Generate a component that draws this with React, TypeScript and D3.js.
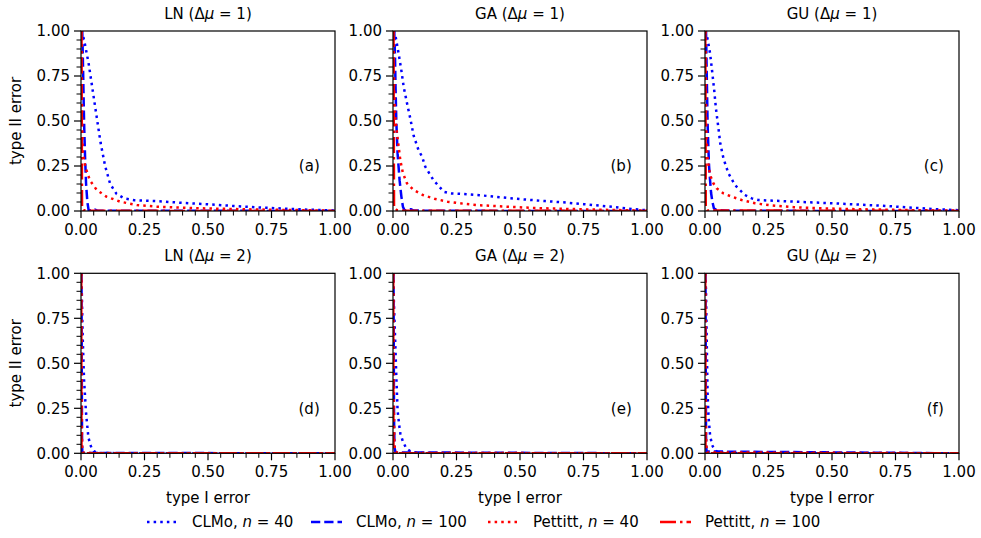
import React from "react";
import * as d3 from "d3";

type Pt = [number, number];

// ---------- data (type I error, type II error) ----------
const panelTitles = ["LN", "GA", "GU", "LN", "GA", "GU"];
const panelShifts = [1, 1, 1, 2, 2, 2];
const panelLabels = ["(a)", "(b)", "(c)", "(d)", "(e)", "(f)"];
const majorTicks = [0, 0.25, 0.5, 0.75, 1];
const tickLabels = ["0.00", "0.25", "0.50", "0.75", "1.00"];
const minorTicks = [0.05, 0.1, 0.15, 0.2, 0.3, 0.35, 0.4, 0.45, 0.55, 0.6, 0.65, 0.7, 0.8, 0.85, 0.9, 0.95];
const seriesNames = ["CLMo", "CLMo", "Pettitt", "Pettitt"];
const seriesN = [40, 100, 40, 100];

// panel (a) LN, Δμ = 1
const aClmo40: Pt[] = [[0,1],[0.007,0.98],[0.015,0.93],[0.03,0.82],[0.045,0.68],[0.062,0.52],[0.077,0.38],[0.095,0.25],[0.115,0.15],[0.14,0.095],[0.17,0.07],[0.21,0.06],[0.3,0.055],[0.4,0.045],[0.5,0.037],[0.6,0.028],[0.7,0.02],[0.8,0.013],[0.9,0.007],[1,0.003]];
const aClmo100: Pt[] = [[0.005,1],[0.008,0.8],[0.012,0.5],[0.016,0.3],[0.02,0.15],[0.025,0.05],[0.03,0.005],[0.045,0.003],[0.055,0.008],[0.065,0.002],[1,0]];
const aPett40: Pt[] = [[0.002,1],[0.003,0.7],[0.005,0.45],[0.007,0.32],[0.017,0.245],[0.035,0.17],[0.062,0.117],[0.1,0.08],[0.154,0.052],[0.22,0.033],[0.3,0.024],[0.4,0.018],[0.5,0.014],[0.6,0.011],[0.7,0.008],[0.8,0.006],[0.9,0.004],[1,0.001]];
const aPett100: Pt[] = [[0.002,1],[0.003,0.5],[0.004,0.02],[0.01,0.005],[0.02,0.002],[0.05,0.001],[1,0]];

// panel (b) GA, Δμ = 1
const bClmo40: Pt[] = [[0,1],[0.009,0.98],[0.022,0.876],[0.033,0.78],[0.042,0.69],[0.055,0.6],[0.068,0.515],[0.081,0.42],[0.1,0.34],[0.115,0.3],[0.127,0.246],[0.16,0.17],[0.2,0.107],[0.226,0.098],[0.28,0.094],[0.34,0.088],[0.41,0.078],[0.5,0.066],[0.6,0.055],[0.67,0.048],[0.75,0.038],[0.87,0.022],[0.95,0.01],[1,0.004]];
const bClmo100: Pt[] = [[0.005,1],[0.008,0.85],[0.01,0.69],[0.013,0.5],[0.018,0.32],[0.026,0.17],[0.033,0.08],[0.039,0.024],[0.045,0.005],[0.06,0.004],[0.07,0.01],[0.08,0.003],[0.15,0.001],[1,0]];
const bPett40: Pt[] = [[0.002,1],[0.003,0.8],[0.006,0.6],[0.01,0.5],[0.016,0.43],[0.022,0.36],[0.029,0.28],[0.039,0.21],[0.055,0.154],[0.081,0.117],[0.117,0.089],[0.163,0.068],[0.214,0.052],[0.28,0.04],[0.34,0.032],[0.45,0.024],[0.55,0.017],[0.7,0.011],[0.85,0.006],[1,0.002]];
const bPett100: Pt[] = [[0.002,1],[0.003,0.5],[0.004,0.02],[0.015,0.005],[0.04,0.002],[1,0]];

// panel (c) GU, Δμ = 1
const cClmo40: Pt[] = [[0,1],[0.007,0.98],[0.02,0.876],[0.029,0.765],[0.037,0.66],[0.043,0.57],[0.052,0.47],[0.06,0.376],[0.073,0.29],[0.092,0.21],[0.118,0.144],[0.157,0.089],[0.184,0.07],[0.21,0.061],[0.35,0.052],[0.5,0.043],[0.6,0.036],[0.7,0.029],[0.8,0.02],[0.9,0.011],[1,0.004]];
const cClmo100: Pt[] = [[0.004,1],[0.007,0.75],[0.01,0.5],[0.013,0.36],[0.016,0.25],[0.02,0.17],[0.024,0.1],[0.029,0.052],[0.035,0.015],[0.045,0.005],[0.05,0.01],[0.058,0.004],[0.1,0.001],[1,0]];
const cPett40: Pt[] = [[0.002,1],[0.003,0.8],[0.004,0.55],[0.006,0.4],[0.01,0.29],[0.02,0.2],[0.033,0.154],[0.046,0.126],[0.072,0.098],[0.105,0.08],[0.144,0.061],[0.197,0.043],[0.26,0.031],[0.35,0.021],[0.45,0.015],[0.6,0.01],[0.8,0.005],[1,0.002]];
const cPett100: Pt[] = [[0.001,1],[0.002,0.5],[0.003,0.02],[0.01,0.003],[1,0]];

// panel (d) LN, Δμ = 2
const dClmo40: Pt[] = [[0,1],[0.003,0.91],[0.007,0.63],[0.012,0.41],[0.02,0.22],[0.029,0.09],[0.036,0.05],[0.042,0.028],[0.05,0.012],[0.055,0.009],[0.06,0.003],[0.1,0.001],[1,0]];
const dClmo100: Pt[] = [[0.002,1],[0.003,0.5],[0.004,0.1],[0.005,0.01],[0.01,0.002],[1,0]];
const dPett40: Pt[] = [[0.001,1],[0.002,0.6],[0.003,0.2],[0.004,0.05],[0.006,0.005],[0.02,0.001],[1,0]];
const dPett100: Pt[] = [[0.001,1],[0.0015,0.3],[0.002,0],[1,0]];

// panel (e) GA, Δμ = 2
const eClmo40: Pt[] = [[0,1],[0.001,0.95],[0.005,0.78],[0.009,0.61],[0.013,0.43],[0.018,0.24],[0.024,0.16],[0.029,0.11],[0.039,0.065],[0.052,0.028],[0.071,0.009],[0.094,0.003],[0.12,0.001],[1,0]];
const eClmo100: Pt[] = [[0.002,1],[0.003,0.6],[0.004,0.2],[0.006,0.03],[0.01,0.005],[1,0]];
const ePett40: Pt[] = [[0.001,1],[0.002,0.6],[0.003,0.3],[0.005,0.08],[0.008,0.01],[0.02,0.002],[1,0]];
const ePett100: Pt[] = [[0.001,1],[0.0015,0.3],[0.002,0],[1,0]];

// panel (f) GU, Δμ = 2
const fClmo40: Pt[] = [[0,1],[0.004,0.91],[0.007,0.61],[0.01,0.34],[0.014,0.2],[0.02,0.1],[0.028,0.046],[0.039,0.015],[0.056,0.004],[0.08,0.001],[1,0]];
const fClmo100: Pt[] = [[0.002,1],[0.003,0.5],[0.004,0.1],[0.006,0.01],[1,0]];
const fPett40: Pt[] = [[0.001,1],[0.002,0.5],[0.003,0.2],[0.005,0.05],[0.008,0.005],[1,0]];
const fPett100: Pt[] = [[0.001,1],[0.0015,0.3],[0.002,0],[1,0]];

const panelData: Pt[][][] = [
  [aClmo40, aClmo100, aPett40, aPett100],
  [bClmo40, bClmo100, bPett40, bPett100],
  [cClmo40, cClmo100, cPett40, cPett100],
  [dClmo40, dClmo100, dPett40, dPett100],
  [eClmo40, eClmo100, ePett40, ePett100],
  [fClmo40, fClmo100, fPett40, fPett100],
];

// ---------- styles / layout ----------
const FONT = "'DejaVu Sans', sans-serif";
const LW = 2.5;
const seriesColors = ["#0000ff", "#0000ff", "#ff0000", "#ff0000"];
const seriesDash = [
  `${LW} ${LW * 1.65}`,
  `${LW * 3.7} ${LW * 1.6}`,
  `${LW} ${LW * 1.65}`,
  `${LW * 6.4} ${LW * 1.6} ${LW} ${LW * 1.6}`,
];
const colLefts = [81, 393, 705];
const rowTops = [31, 273.3];
const PW = 254;
const PH = 180;
const FS = 15;

function Panel({ idx }: { idx: number }) {
  const col = idx % 3;
  const row = Math.floor(idx / 3);
  const x0 = colLefts[col];
  const y0 = rowTops[row];
  const x = d3.scaleLinear().domain([0, 1]).range([x0, x0 + PW]);
  const y = d3.scaleLinear().domain([0, 1]).range([y0 + PH, y0]);
  const line = d3
    .line<Pt>()
    .x((d) => x(d[0]))
    .y((d) => y(d[1]));
  const clipId = `clip-${idx}`;
  const bottom = y0 + PH;
  return (
    <g>
      <defs>
        <clipPath id={clipId}>
          <rect x={x0} y={y0} width={PW} height={PH} />
        </clipPath>
      </defs>
      <g clipPath={`url(#${clipId})`}>
        {panelData[idx].map((s, i) => (
          <path
            key={i}
            d={line(s) || ""}
            fill="none"
            stroke={seriesColors[i]}
            strokeWidth={LW}
            strokeDasharray={seriesDash[i]}
            strokeLinejoin="round"
          />
        ))}
      </g>
      <rect x={x0} y={y0} width={PW} height={PH} fill="none" stroke="#000" strokeWidth={1.2} />
      {majorTicks.map((t, i) => (
        <g key={"xm" + i}>
          <line x1={x(t)} x2={x(t)} y1={bottom} y2={bottom + 7} stroke="#000" strokeWidth={1.2} />
          <text x={x(t)} y={bottom + 24} textAnchor="middle" fontSize={FS} fontFamily={FONT} fill="#000">
            {tickLabels[i]}
          </text>
        </g>
      ))}
      {minorTicks.map((t, i) => (
        <line key={"xn" + i} x1={x(t)} x2={x(t)} y1={bottom} y2={bottom + 4.5} stroke="#000" strokeWidth={1} />
      ))}
      {majorTicks.map((t, i) => (
        <g key={"ym" + i}>
          <line x1={x0 - 7} x2={x0} y1={y(t)} y2={y(t)} stroke="#000" strokeWidth={1.2} />
          <text x={x0 - 11} y={y(t)} dy="0.36em" textAnchor="end" fontSize={FS} fontFamily={FONT} fill="#000">
            {tickLabels[i]}
          </text>
        </g>
      ))}
      {minorTicks.map((t, i) => (
        <line key={"yn" + i} x1={x0 - 4.5} x2={x0} y1={y(t)} y2={y(t)} stroke="#000" strokeWidth={1} />
      ))}
      <text x={x0 + PW / 2} y={y0 - 12} textAnchor="middle" fontSize={FS} fontFamily={FONT} fill="#000">
        {panelTitles[idx]} (Δ<tspan fontStyle="italic">μ</tspan> = {panelShifts[idx]})
      </text>
      <text x={x0 + PW * 0.94} y={y(0.25)} dy="0.36em" textAnchor="end" fontSize={FS} fontFamily={FONT} fill="#000">
        {panelLabels[idx]}
      </text>
      {col === 0 && (
        <text
          transform={`translate(${16},${y0 + PH / 2}) rotate(-90)`}
          textAnchor="middle"
          dy="0.36em"
          fontSize={FS}
          fontFamily={FONT}
          fill="#000"
        >
          type II error
        </text>
      )}
      {row === 1 && (
        <text x={x0 + PW / 2} y={bottom + 50} textAnchor="middle" fontSize={FS} fontFamily={FONT} fill="#000">
          type I error
        </text>
      )}
    </g>
  );
}

const legendX = [147, 311, 488, 660];
const LEG_Y = 522;

export default function App() {
  return (
    <svg
      width={981}
      height={538}
      style={{ position: "absolute", left: 0, top: 0, background: "#fff" }}
    >
      <rect x={0} y={0} width={981} height={538} fill="#fff" />
      {panelData.map((_, i) => (
        <Panel key={i} idx={i} />
      ))}
      {seriesNames.map((nm, i) => (
        <g key={"leg" + i}>
          <line
            x1={legendX[i]}
            x2={legendX[i] + 31}
            y1={LEG_Y}
            y2={LEG_Y}
            stroke={seriesColors[i]}
            strokeWidth={LW}
            strokeDasharray={seriesDash[i]}
          />
          <text x={legendX[i] + 45} y={LEG_Y} dy="0.36em" fontSize={FS} fontFamily={FONT} fill="#000">
            {nm}, <tspan fontStyle="italic">n</tspan> = {seriesN[i]}
          </text>
        </g>
      ))}
    </svg>
  );
}
